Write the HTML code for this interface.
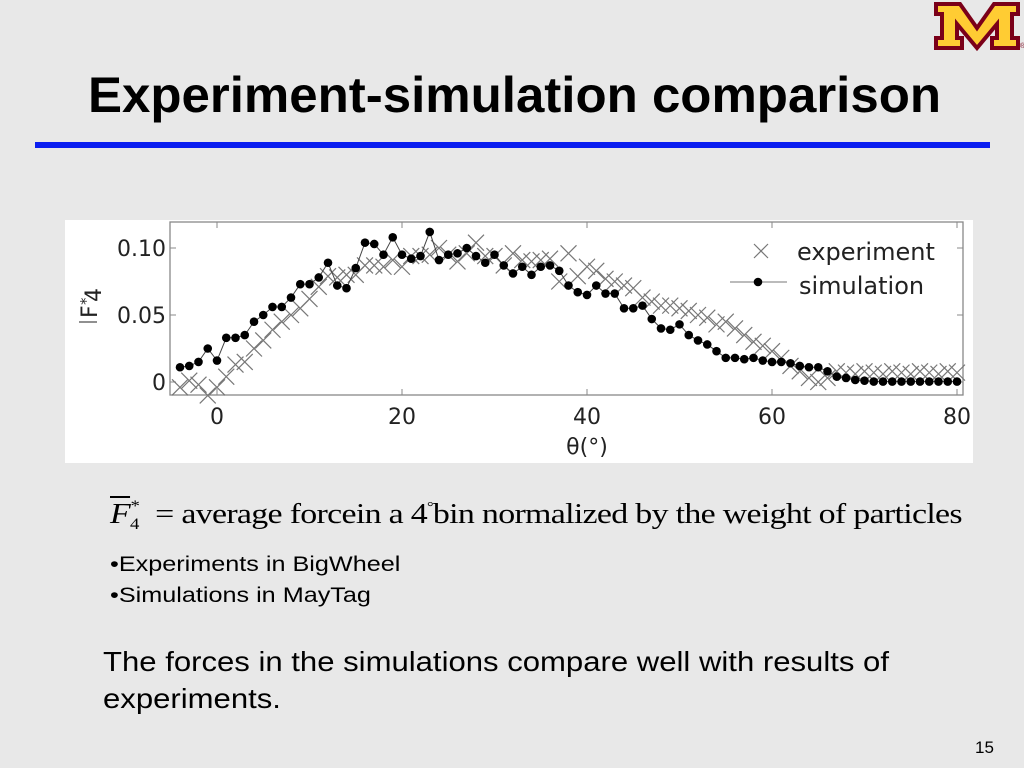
<!DOCTYPE html>
<html><head><meta charset="utf-8"><style>
body{margin:0;width:1024px;height:768px;background:#e8e8e8;position:relative;overflow:hidden;font-family:"Liberation Sans",sans-serif}
.a{position:absolute;white-space:nowrap;transform-origin:0 0}
</style></head><body>
<div class="a" style="left:88px;top:66px;font-weight:bold;font-size:50px;color:#000;transform:scaleX(1.02)">Experiment-simulation comparison</div>
<div class="a" style="left:35px;top:142px;width:955px;height:6px;background:#0a1ef0"></div>
<svg class="a" style="left:934px;top:0" width="90" height="52" viewBox="0 0 90 52">
<polygon points="2,4 26,4 43,28 60,4 84,4 84,14 78,14 78,38 84,38 84,48 58,48 58,38 63,38 63,24 43,48 23,24 23,38 28,38 28,48 2,48 2,38 8,38 8,14 2,14" fill="#ffcc33" stroke="#7a0019" stroke-width="4"/>
<text x="86" y="48" font-size="7" fill="#7a0019">®</text></svg>
<svg class="a" id="chart" style="left:65px;top:220px" width="908" height="243"></svg>
<div class="a" style="left:110px;top:498px;font-family:'Liberation Serif',serif;font-size:29px;letter-spacing:-0.6px;transform:scaleX(1.17)"><span style="font-style:italic;text-decoration:overline">F</span><span style="font-size:16px;position:relative;top:6px">4</span><span style="font-size:16px;position:relative;top:-12px;left:-7px">*</span> = average forcein a 4<span style="font-size:14px;position:relative;top:-12px">°</span>bin normalized by the weight of particles</div>
<div class="a" style="left:110px;top:553px;font-size:21px;transform:scaleX(1.2)">•Experiments in BigWheel</div>
<div class="a" style="left:110px;top:584px;font-size:21px;transform:scaleX(1.2)">•Simulations in MayTag</div>
<div class="a" style="left:103px;top:643px;font-size:28px;line-height:37px;transform:scaleX(1.11)">The forces in the simulations compare well with results of<br>experiments.</div>
<div class="a" style="left:975px;top:738px;font-size:17px">15</div>
<script>
const simTheta=[-4,-3,-2,-1,0,1,2,3,4,5,6,7,8,9,10,11,12,13,14,15,16,17,18,19,20,21,22,23,24,25,26,27,28,29,30,31,32,33,34,35,36,37,38,39,40,41,42,43,44,45,46,47,48,49,50,51,52,53,54,55,56,57,58,59,60,61,62,63,64,65,66,67,68,69,70,71,72,73,74,75,76,77,78,79,80];
const simValues=[0.011,0.012,0.015,0.025,0.016,0.033,0.033,0.035,0.045,0.050,0.056,0.056,0.063,0.073,0.073,0.078,0.089,0.072,0.070,0.085,0.104,0.103,0.095,0.108,0.095,0.092,0.094,0.112,0.091,0.095,0.096,0.100,0.094,0.089,0.095,0.087,0.081,0.086,0.080,0.086,0.087,0.083,0.072,0.067,0.065,0.072,0.066,0.066,0.055,0.055,0.057,0.047,0.040,0.039,0.043,0.035,0.031,0.028,0.023,0.018,0.018,0.017,0.018,0.016,0.015,0.015,0.014,0.012,0.011,0.011,0.008,0.004,0.003,0.0015,0.001,0.0003,0.0003,0.0003,0.0003,0.0003,0.0003,0.0003,0.0003,0.0003,0.0003];
const expTheta=simTheta;
const expValues=[-0.004,0.001,-0.002,-0.010,-0.004,0.004,0.013,0.015,0.025,0.031,0.039,0.045,0.050,0.055,0.062,0.071,0.079,0.078,0.080,0.080,0.087,0.087,0.086,0.091,0.086,0.094,0.094,0.095,0.100,0.095,0.090,0.096,0.104,0.094,0.094,0.087,0.096,0.091,0.090,0.091,0.092,0.075,0.096,0.079,0.086,0.083,0.077,0.075,0.072,0.070,0.063,0.060,0.057,0.057,0.055,0.053,0.050,0.048,0.043,0.045,0.040,0.035,0.030,0.027,0.023,0.018,0.012,0.008,0.003,0.000,0.003,0.008,0.007,0.006,0.008,0.007,0.006,0.008,0.007,0.006,0.008,0.007,0.006,0.008,0.007];
const xTicks=[0,20,40,60,80];
const yTicks=[0,0.05,0.10];
const yTickLabels=["0","0.05","0.10"];
const svg=document.getElementById('chart');
const NS='http://www.w3.org/2000/svg';
const X=v=>152+v*9.25, Y=v=>162-v*1340;
function el(t,a,p){const e=document.createElementNS(NS,t);for(const k in a)e.setAttribute(k,a[k]);(p||svg).appendChild(e);return e;}
const bg=el('rect',{x:0,y:0,width:908,height:243,fill:'#fff'});


const fr=el('rect',{x:105,y:2,width:793,height:173,fill:'none',stroke:'#888','stroke-width':1.3});


xTicks.forEach(t=>{
 el('line',{x1:X(t),x2:X(t),y1:175,y2:169,stroke:'#888'});el('line',{x1:X(t),x2:X(t),y1:2,y2:8,stroke:'#888'});
 const tx=el('text',{x:X(t),y:204,'text-anchor':'middle','font-size':22,fill:'#222','font-family':'DejaVu Sans, sans-serif'});tx.textContent=t;
 
 
});
yTicks.forEach((t,i)=>{
 el('line',{x1:105,x2:111,y1:Y(t),y2:Y(t),stroke:'#888'});el('line',{x1:898,x2:892,y1:Y(t),y2:Y(t),stroke:'#888'});
 const tx=el('text',{x:101,y:Y(t)+8,'text-anchor':'end','font-size':22,fill:'#222','font-family':'DejaVu Sans, sans-serif'});tx.textContent=yTickLabels[i];
 
 
});
const xt=el('text',{x:X(40),y:234,'text-anchor':'middle','font-size':22,fill:'#222','font-family':'DejaVu Sans, sans-serif'});xt.textContent='θ(°)';


const yt=el('g',{transform:'translate(32,98) rotate(-90)'});


const yF=el('text',{x:0,y:0,'font-size':22,fill:'#222','font-family':'DejaVu Sans, sans-serif'},yt);yF.textContent='F';
const yS=el('text',{x:13,y:-6,'font-size':15,fill:'#222','font-family':'DejaVu Sans, sans-serif'},yt);yS.textContent='*';
const y4=el('text',{x:16,y:4,'font-size':22,fill:'#222','font-family':'DejaVu Sans, sans-serif'},yt);y4.textContent='4';
el('line',{x1:0,x2:0,y1:-18,y2:0,stroke:'#222','stroke-width':1},yt).setAttribute('transform','translate(-4,0)');
const exG=el('g',{stroke:'#777','stroke-width':1.2,fill:'none'});


expTheta.forEach((t,i)=>{const x=X(t),y=Y(expValues[i]);if(x<105)return;
 const p=el('path',{d:`M${x-8} ${y-8}L${x+8} ${y+8}M${x-8} ${y+8}L${x+8} ${y-8}`},exG);
 
 });
const ln=el('polyline',{points:simTheta.map((t,i)=>X(t)+','+Y(simValues[i])).join(' '),fill:'none',stroke:'#444','stroke-width':1});


simTheta.forEach((t,i)=>{const c=el('circle',{cx:X(t),cy:Y(simValues[i]),r:4.3,fill:'#000'});
 
 });
const lg=el('g',{});


el('path',{d:'M689 24L703 38M689 38L703 24',stroke:'#777','stroke-width':1.2},lg);
el('line',{x1:665,x2:722,y1:62,y2:62,stroke:'#777'},lg);
el('circle',{cx:693,cy:62,r:4.3,fill:'#000'},lg);
const l1=el('text',{x:732,y:40,'font-size':24,fill:'#222','font-family':'DejaVu Sans, sans-serif'},lg);l1.textContent='experiment';
const l2=el('text',{x:734,y:74,'font-size':24,fill:'#222','font-family':'DejaVu Sans, sans-serif'},lg);l2.textContent='simulation';
</script>
</body></html>
